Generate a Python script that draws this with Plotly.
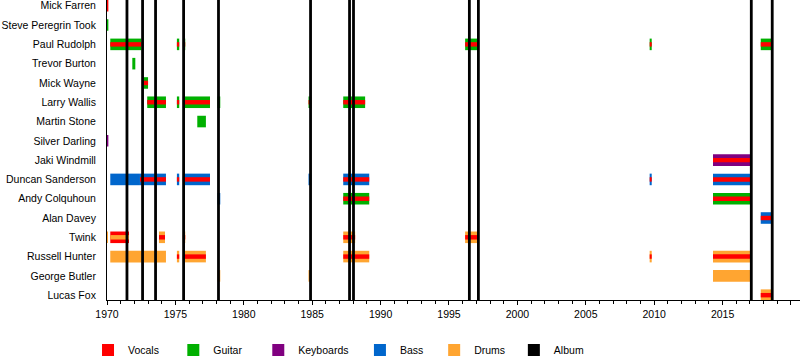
import plotly.graph_objects as go

members = ["Mick Farren", "Steve Peregrin Took", "Paul Rudolph", "Trevor Burton",
           "Mick Wayne", "Larry Wallis", "Martin Stone", "Silver Darling",
           "Jaki Windmill", "Duncan Sanderson", "Andy Colquhoun", "Alan Davey",
           "Twink", "Russell Hunter", "George Butler", "Lucas Fox"]

roles = ["Vocals", "Guitar", "Keyboards", "Bass", "Drums"]
role_colors = {"Vocals": "#FF0000", "Guitar": "#00B000", "Keyboards": "#800080",
               "Bass": "#0066CC", "Drums": "#FFA531"}

# stint segments: member, start, end, main role, secondary role (stripe)
seg_member = [
    "Mick Farren",
    "Steve Peregrin Took",
    "Paul Rudolph", "Paul Rudolph", "Paul Rudolph", "Paul Rudolph", "Paul Rudolph", "Paul Rudolph",
    "Trevor Burton",
    "Mick Wayne",
    "Larry Wallis", "Larry Wallis", "Larry Wallis", "Larry Wallis", "Larry Wallis", "Larry Wallis",
    "Martin Stone",
    "Silver Darling",
    "Jaki Windmill",
    "Duncan Sanderson", "Duncan Sanderson", "Duncan Sanderson", "Duncan Sanderson",
    "Duncan Sanderson", "Duncan Sanderson", "Duncan Sanderson", "Duncan Sanderson",
    "Andy Colquhoun", "Andy Colquhoun", "Andy Colquhoun",
    "Alan Davey",
    "Twink", "Twink", "Twink", "Twink", "Twink", "Twink",
    "Russell Hunter", "Russell Hunter", "Russell Hunter", "Russell Hunter", "Russell Hunter", "Russell Hunter",
    "George Butler", "George Butler", "George Butler",
    "Lucas Fox",
]
seg_start = [
    1969.5,
    1969.5,
    1970.24, 1975.11, 1975.55, 1996.18, 2009.67, 2017.79,
    1971.85,
    1972.67,
    1972.94, 1975.11, 1975.55, 1978.08, 1984.73, 1987.27,
    1976.60,
    1969.5,
    2014.30,
    1970.24, 1972.41, 1975.11, 1975.55, 1984.73, 1987.27, 2009.67, 2014.30,
    1978.08, 1987.27, 2014.30,
    2017.79,
    1969.5, 1970.24, 1973.80, 1975.55, 1987.27, 1996.18,
    1970.24, 1975.11, 1975.55, 1987.27, 2009.67, 2014.30,
    1978.08, 1984.73, 2014.30,
    2017.79,
]
seg_end = [
    1970.10,
    1970.10,
    1972.51, 1975.28, 1975.72, 1997.20, 2009.82, 2018.66,
    1972.07,
    1973.00,
    1974.31, 1975.28, 1977.53, 1978.28, 1984.93, 1988.87,
    1977.23,
    1970.10,
    2017.15,
    1972.41, 1974.31, 1975.28, 1977.53, 1984.93, 1989.17, 2009.82, 2017.15,
    1978.28, 1989.17, 2017.15,
    2018.66,
    1970.07, 1971.61, 1974.24, 1975.72, 1988.14, 1997.20,
    1974.31, 1975.28, 1977.23, 1989.17, 2009.82, 2017.15,
    1978.28, 1984.93, 2017.15,
    2018.66,
]
seg_role = [
    "Vocals",
    "Guitar",
    "Guitar", "Guitar", "Guitar", "Guitar", "Guitar", "Guitar",
    "Guitar",
    "Guitar",
    "Guitar", "Guitar", "Guitar", "Guitar", "Guitar", "Guitar",
    "Guitar",
    "Keyboards",
    "Keyboards",
    "Bass", "Bass", "Bass", "Bass", "Bass", "Bass", "Bass", "Bass",
    "Bass", "Guitar", "Guitar",
    "Bass",
    "Drums", "Vocals", "Drums", "Drums", "Drums", "Drums",
    "Drums", "Drums", "Drums", "Drums", "Drums", "Drums",
    "Drums", "Drums", "Drums",
    "Drums",
]
seg_stripe = [
    None,
    None,
    "Vocals", "Vocals", "Vocals", "Vocals", "Vocals", "Vocals",
    None,
    "Vocals",
    "Vocals", "Vocals", "Vocals", None, "Vocals", "Vocals",
    None,
    None,
    "Vocals",
    None, "Vocals", "Vocals", "Vocals", None, "Vocals", "Vocals", "Vocals",
    None, "Vocals", "Vocals",
    "Vocals",
    None, "Drums", "Vocals", "Vocals", "Vocals", "Vocals",
    None, "Vocals", "Vocals", "Vocals", "Vocals", "Vocals",
    None, None, None,
    "Vocals",
]

album_years = [1971.46, 1972.60, 1973.55, 1975.60, 1978.15, 1984.88,
               1987.73, 1988.02, 1996.49, 1997.15, 2017.10, 2018.63]

legend_items = ["Vocals", "Guitar", "Keyboards", "Bass", "Drums", "Album"]
legend_x = [-0.0274, 0.0957, 0.2183, 0.3650, 0.4721, 0.5871]

FONT = "Liberation Sans, Arial, sans-serif"
FS = 10.5
row = {m: i for i, m in enumerate(members)}
leg_name = {name: ("legend" if k == 0 else f"legend{k + 1}") for k, name in enumerate(legend_items)}

fig = go.Figure()

# main bars
for r in roles:
    idx = [i for i in range(len(seg_member)) if seg_role[i] == r]
    fig.add_trace(go.Bar(
        orientation="h",
        y=[row[seg_member[i]] for i in idx],
        base=[seg_start[i] for i in idx],
        x=[seg_end[i] - seg_start[i] for i in idx],
        width=0.6,
        marker=dict(color=role_colors[r], line=dict(width=0)),
        name=r, showlegend=True, legend=leg_name[r], hoverinfo="skip",
    ))

# secondary-role stripes
for r in roles:
    idx = [i for i in range(len(seg_member)) if seg_stripe[i] == r]
    if not idx:
        continue
    fig.add_trace(go.Bar(
        orientation="h",
        y=[row[seg_member[i]] for i in idx],
        base=[seg_start[i] for i in idx],
        x=[seg_end[i] - seg_start[i] for i in idx],
        width=0.23,
        marker=dict(color=role_colors[r], line=dict(width=0)),
        name=r, showlegend=False, hoverinfo="skip",
    ))

# album lines
ax, ay = [], []
for a in album_years:
    ax += [a, a, None]
    ay += [-1, len(members), None]
fig.add_trace(go.Scatter(x=ax, y=ay, mode="lines",
                         line=dict(color="black", width=2.8),
                         showlegend=False, hoverinfo="skip"))
# legend entry for albums
fig.add_trace(go.Bar(orientation="h", y=[0], base=[album_years[0]], x=[0],
                     width=0.6, marker=dict(color="black", line=dict(width=0)),
                     name="Album", showlegend=True, legend=leg_name["Album"],
                     hoverinfo="skip"))

layout_legends = {}
for k, name in enumerate(legend_items):
    layout_legends[leg_name[name]] = dict(
        orientation="h", x=legend_x[k], xanchor="left", y=-0.167, yanchor="middle",
        font=dict(size=FS, family=FONT, color="#000000"), itemwidth=30,
        bgcolor="rgba(0,0,0,0)",
    )

fig.update_layout(
    width=800, height=360,
    margin=dict(l=107, r=0, t=0, b=60, autoexpand=False),
    paper_bgcolor="white", plot_bgcolor="white",
    barmode="overlay",
    font=dict(family=FONT, size=FS, color="#000000"),
    showlegend=True,
    **layout_legends,
)
fig.update_xaxes(
    range=[1970, 2020.66], showgrid=False, zeroline=False, automargin=False,
    showline=True, linecolor="black", linewidth=1,
    tickmode="linear", tick0=1970, dtick=5,
    ticks="outside", ticklen=4, tickcolor="black", tickwidth=1,
    tickfont=dict(size=FS),
    minor=dict(dtick=1, tick0=1970, ticks="outside", ticklen=3,
               tickcolor="black", tickwidth=1, showgrid=False),
)
fig.update_yaxes(
    range=[15.25, -0.3], showgrid=False, zeroline=False, automargin=False,
    showline=True, linecolor="black", linewidth=1,
    tickmode="array", tickvals=list(range(len(members))), ticktext=members,
    ticks="", ticklabelstandoff=8, ticklabeloverflow="allow",
    tickfont=dict(size=FS),
)

fig.write_html("out.html", config={"displayModeBar": False},
               post_script="document.body.style.margin='0px';document.body.style.overflow='hidden';")
